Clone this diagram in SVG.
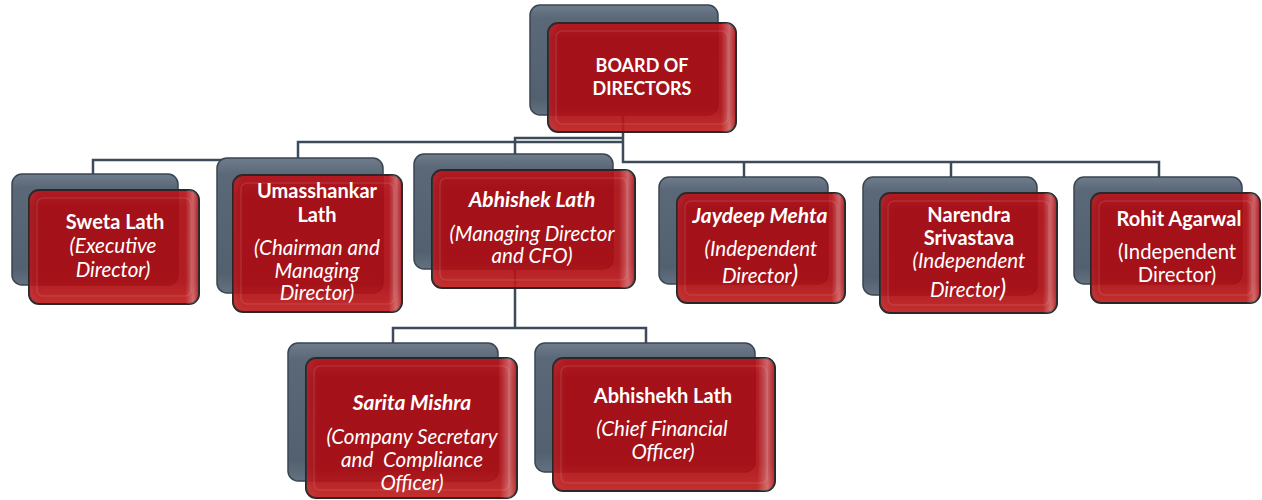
<svg xmlns="http://www.w3.org/2000/svg" width="1262" height="500" viewBox="0 0 1262 500">
<defs>
<linearGradient id="gGray" x1="0" y1="0" x2="0" y2="1">
<stop offset="0" stop-color="#6f7c8c"/>
<stop offset="0.12" stop-color="#5b6878"/>
<stop offset="0.85" stop-color="#52606f"/>
<stop offset="1" stop-color="#647181"/>
</linearGradient>
<linearGradient id="gRed" x1="0" y1="0" x2="0" y2="1">
<stop offset="0" stop-color="#b9151c"/>
<stop offset="0.15" stop-color="#aa0b12"/>
<stop offset="0.8" stop-color="#ab0c12"/>
<stop offset="1" stop-color="#c0201f"/>
</linearGradient>
<linearGradient id="gShine" x1="0" y1="0" x2="1" y2="0">
<stop offset="0" stop-color="#fff" stop-opacity="0.06"/>
<stop offset="0.06" stop-color="#fff" stop-opacity="0"/>
<stop offset="0.92" stop-color="#fff" stop-opacity="0"/>
<stop offset="0.965" stop-color="#fff" stop-opacity="0.3"/>
<stop offset="1" stop-color="#fff" stop-opacity="0"/>
</linearGradient>
</defs>
<style>
.back{fill:url(#gGray);stroke:#3a4552;stroke-width:1.5}
.front{fill:url(#gRed);fill-opacity:0.93;stroke:#2c2628;stroke-width:2}
.shine{fill:url(#gShine)}
.bevel{fill:none;stroke:#fff;stroke-opacity:0.1;stroke-width:1.5}
.conn{fill:none;stroke:#3d4a5a;stroke-width:2.5}
.lbl{font-family:Lato,"Liberation Sans",sans-serif;fill:#fff;font-size:20.3px;text-anchor:middle}
.b{font-weight:bold;font-size:20px}
.i{font-style:italic;font-size:20.6px}
.bi{font-weight:bold;font-style:italic;font-size:21px}
.hd{font-weight:bold;font-size:18px}
.big{font-size:25px}
</style>

<g id="connectors">
<path class="conn" d="M623,115 V162 H1159 V180"/>
<path class="conn" d="M744,162 V180"/>
<path class="conn" d="M951,162 V180"/>
<path class="conn" d="M623,138 H515 V156"/>
<path class="conn" d="M623,142 H298 V162"/>
<path class="conn" d="M93,176 V160 H298"/>
<path class="conn" d="M515,270 V328"/>
<path class="conn" d="M393,345 V328 H646 V345"/>
</g>

<g id="board">
<rect class="back" x="530" y="5" width="188" height="110" rx="10"/>
<rect class="front" x="548" y="23" width="188" height="109" rx="10"/>
<rect class="shine" x="548" y="23" width="188" height="109" rx="10"/>
<rect class="bevel" x="556" y="31" width="172" height="93" rx="6"/>
<text class="lbl hd" x="642" y="72">BOARD OF</text>
<text class="lbl hd" x="642" y="95">DIRECTORS</text>
</g>

<g id="sweta">
<rect class="back" x="12" y="174" width="166" height="111" rx="10"/>
<rect class="front" x="29" y="190" width="170" height="114" rx="10"/>
<rect class="shine" x="29" y="190" width="170" height="114" rx="10"/>
<rect class="bevel" x="37" y="198" width="154" height="98" rx="6"/>
<text class="lbl b" x="115" y="229">Sweta Lath</text>
<text class="lbl i" x="113" y="253">(Executive</text>
<text class="lbl i" x="113" y="277">Director)</text>
</g>

<g id="umasshankar">
<rect class="back" x="217" y="158" width="166" height="135" rx="10"/>
<rect class="front" x="233" y="175" width="169" height="137" rx="10"/>
<rect class="shine" x="233" y="175" width="169" height="137" rx="10"/>
<rect class="bevel" x="241" y="183" width="153" height="121" rx="6"/>
<text class="lbl b" x="317" y="198">Umasshankar</text>
<text class="lbl b" x="317" y="222">Lath</text>
<text class="lbl i" x="317" y="255">(Chairman and</text>
<text class="lbl i" x="317" y="278">Managing</text>
<text class="lbl i" x="317" y="300">Director)</text>
</g>

<g id="abhishek">
<rect class="back" x="414" y="154" width="199" height="115" rx="10"/>
<rect class="front" x="432" y="170" width="203" height="118" rx="10"/>
<rect class="shine" x="432" y="170" width="203" height="118" rx="10"/>
<rect class="bevel" x="440" y="178" width="187" height="102" rx="6"/>
<text class="lbl bi" x="532" y="207">Abhishek Lath</text>
<text class="lbl i" x="532" y="241">(Managing Director</text>
<text class="lbl i" x="532" y="263">and CFO)</text>
</g>

<g id="jaydeep">
<rect class="back" x="659" y="177" width="169" height="107" rx="10"/>
<rect class="front" x="677" y="193" width="168" height="110" rx="10"/>
<rect class="shine" x="677" y="193" width="168" height="110" rx="10"/>
<rect class="bevel" x="685" y="201" width="152" height="94" rx="6"/>
<text class="lbl bi" x="760" y="223">Jaydeep Mehta</text>
<text class="lbl i" x="761" y="256">(Independent</text>
<text class="lbl i" x="760" y="283">Director<tspan class="big">)</tspan></text>
</g>

<g id="narendra">
<rect class="back" x="863" y="177" width="174" height="118" rx="10"/>
<rect class="front" x="880" y="193" width="177" height="120" rx="10"/>
<rect class="shine" x="880" y="193" width="177" height="120" rx="10"/>
<rect class="bevel" x="888" y="201" width="161" height="104" rx="6"/>
<text class="lbl b" x="969" y="222">Narendra</text>
<text class="lbl b" x="969" y="245">Srivastava</text>
<text class="lbl i" x="969" y="268">(Independent</text>
<text class="lbl i" x="968" y="297">Director<tspan class="big">)</tspan></text>
</g>

<g id="rohit">
<rect class="back" x="1074" y="177" width="168" height="107" rx="10"/>
<rect class="front" x="1091" y="193" width="169" height="110" rx="10"/>
<rect class="shine" x="1091" y="193" width="169" height="110" rx="10"/>
<rect class="bevel" x="1099" y="201" width="153" height="94" rx="6"/>
<text class="lbl b" x="1179" y="226">Rohit Agarwal</text>
<text class="lbl" x="1177" y="259">(Independent</text>
<text class="lbl" x="1177" y="282">Director)</text>
</g>

<g id="sarita">
<rect class="back" x="288" y="343" width="210" height="138" rx="10"/>
<rect class="front" x="306" y="358" width="211" height="140" rx="10"/>
<rect class="shine" x="306" y="358" width="211" height="140" rx="10"/>
<rect class="bevel" x="314" y="366" width="195" height="124" rx="6"/>
<text class="lbl bi" x="412" y="410">Sarita Mishra</text>
<text class="lbl i" x="412" y="444">(Company Secretary</text>
<text class="lbl i" x="412" y="467" xml:space="preserve">and  Compliance</text>
<text class="lbl i" x="412" y="490">Officer)</text>
</g>

<g id="abhishekh">
<rect class="back" x="535" y="343" width="220" height="129" rx="10"/>
<rect class="front" x="553" y="358" width="222" height="133" rx="10"/>
<rect class="shine" x="553" y="358" width="222" height="133" rx="10"/>
<rect class="bevel" x="561" y="366" width="206" height="117" rx="6"/>
<text class="lbl b" x="663" y="403">Abhishekh Lath</text>
<text class="lbl i" x="662" y="436">(Chief Financial</text>
<text class="lbl i" x="663" y="459">Officer)</text>
</g>
</svg>
